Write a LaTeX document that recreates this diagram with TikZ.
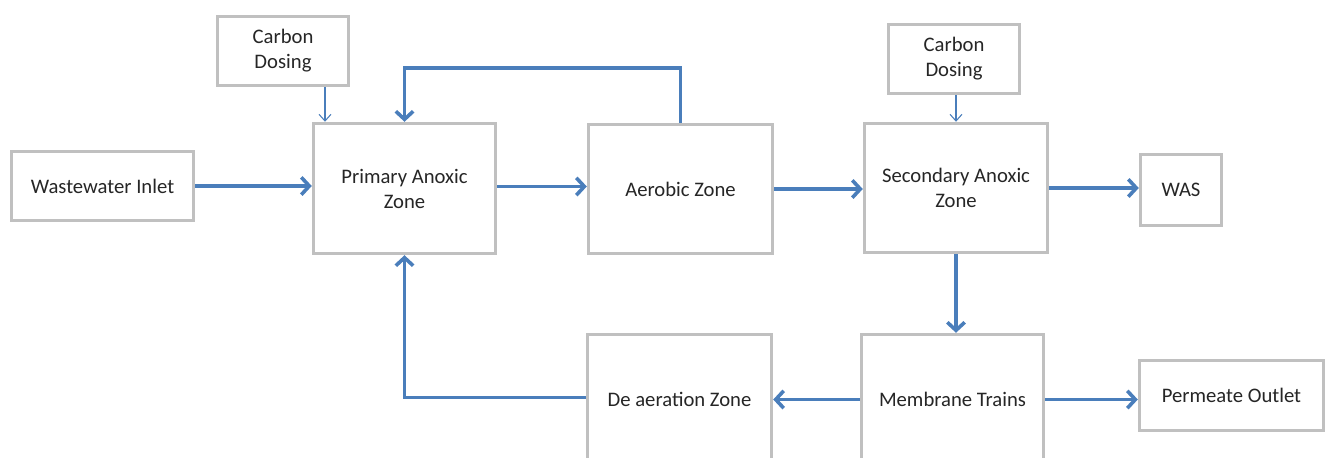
\documentclass[tikz,border=0pt]{standalone}
\usepackage{fontspec}
\setmainfont{Carlito}
\usetikzlibrary{shapes,arrows.meta,positioning}
\definecolor{boxgray}{HTML}{C0C0C0}
\definecolor{flowblue}{HTML}{4A7EBB}

\begin{document}
\begin{tikzpicture}[x=0.75pt,y=-0.75pt,
    box/.style={draw=boxgray,line width=2.6pt,fill=white,align=center,inner sep=0pt,
      font=\fontsize{15.5}{18.75}\selectfont,text=black!85},
    flow/.style={draw=flowblue,line width=2.7pt,-{Straight Barb[length=6pt,width=13pt]}},
    dose/.style={draw=flowblue,line width=0.8pt,-{Straight Barb[length=5pt,width=9pt]}}]
        \useasboundingbox (0,0) rectangle (1330,457);
        \clip (0,0) rectangle (1330,457);
        % top row
        \node[box,minimum width=182pt*0.75,minimum height=69pt*0.75] (inlet) at (102.5,186) {Wastewater Inlet};
        \node[box,minimum width=131pt*0.75,minimum height=69pt*0.75] (dose1) at (283,51) {Carbon\\Dosing};
        \node[box,minimum width=182pt*0.75,minimum height=130pt*0.75] (primary) at (404.5,188.5) {Primary Anoxic\\Zone};
        \node[box,minimum width=184pt*0.75,minimum height=129pt*0.75] (aerobic) at (680.5,189) {Aerobic Zone};
        \node[box,minimum width=131pt*0.75,minimum height=69pt*0.75] (dose2) at (954,59) {Carbon\\Dosing};
        \node[box,minimum width=183pt*0.75,minimum height=129pt*0.75] (secondary) at (956,188) {Secondary Anoxic\\Zone};
        \node[box,minimum width=81pt*0.75,minimum height=71pt*0.75] (was) at (1181,190) {WAS};
        % bottom row
        \node[box,minimum width=182pt*0.75,minimum height=130pt*0.75] (membrane) at (952.5,399.5) {Membrane Trains};
        \node[box,minimum width=184pt*0.75,minimum height=130pt*0.75] (deaer) at (679.5,399.5) {De aeration Zone};
        \node[box,minimum width=184pt*0.75,minimum height=70pt*0.75] (permeate) at (1231.5,395.5) {Permeate Outlet};
        % flows
        \draw[flow] (inlet.east) -- (inlet.east -| primary.west);
        \draw[dose] ([xshift=31.5pt]dose1.south) -- ([xshift=31.5pt]dose1.south |- primary.north);
        \draw[flow] ([yshift=1.5pt]primary.east) -- ([yshift=1.5pt]primary.east -| aerobic.west);
        \draw[flow] (aerobic.north) -- ++(0,-55) -| (primary.north);
        \draw[flow] (aerobic.east) -- (aerobic.east -| secondary.west);
        \draw[dose] ([xshift=1.5pt]dose2.south) -- ([xshift=1.5pt]dose2.south |- secondary.north);
        \draw[flow] (secondary.east) -- (secondary.east -| was.west);
        \draw[flow] (secondary.south) -- (secondary.south |- membrane.north);
        \draw[flow] (membrane.west) -- (membrane.west -| deaer.east);
        \draw[flow] (membrane.east) -- (membrane.east -| permeate.west);
        \draw[flow] ([yshift=1.5pt]deaer.west) -| (primary.south);
\end{tikzpicture}
\end{document}
